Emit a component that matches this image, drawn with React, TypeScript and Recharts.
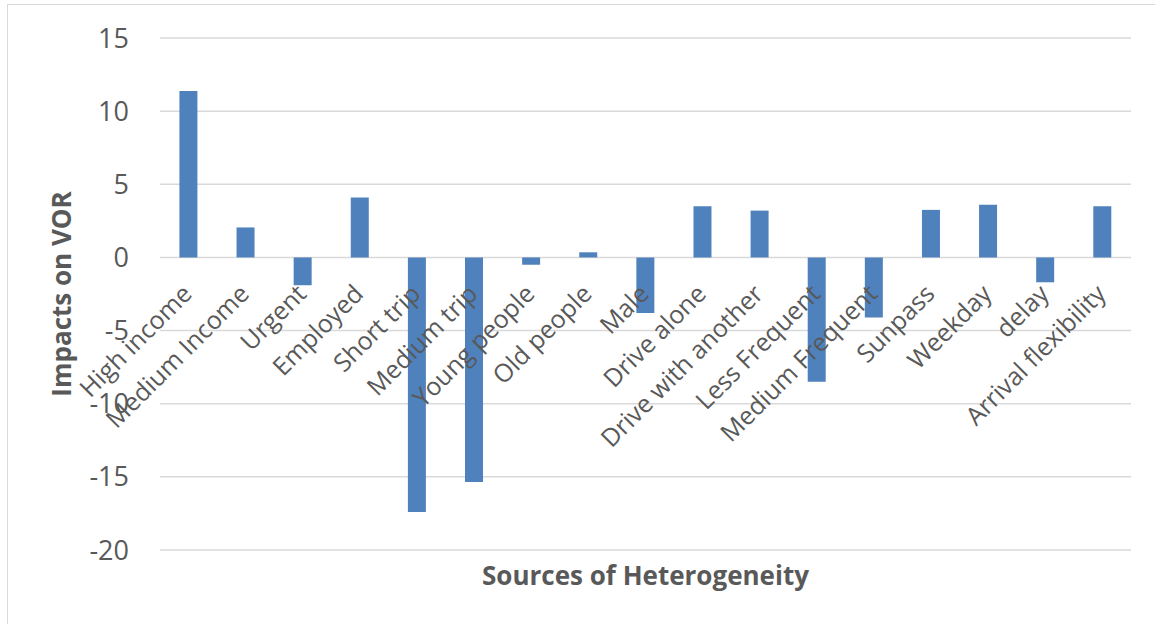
import React from 'react';
import { BarChart, Bar, XAxis, YAxis, CartesianGrid } from 'recharts';

const categories = [
  'High income', 'Medium Income', 'Urgent', 'Employed', 'Short trip', 'Medium trip',
  'Young people', 'Old people', 'Male', 'Drive alone', 'Drive with another',
  'Less Frequent', 'Medium Frequent', 'Sunpass', 'Weekday', 'delay', 'Arrival flexibility',
];
const impacts = [
  11.38, 2.05, -1.9, 4.1, -17.4, -15.35, -0.5, 0.35, -3.8, 3.5, 3.2,
  -8.5, -4.1, 3.25, 3.6, -1.7, 3.5,
];
const yTicks = [-20, -15, -10, -5, 0, 5, 10, 15];

const data = categories.map((name, i) => ({ name, value: impacts[i] }));

const W = 1155;
const H = 624;
const M = { top: 38, right: 24, bottom: 0, left: 0 };
const Y_AXIS_W = 160;
const X_AXIS_H = 74;
const Y_MIN = -20;
const Y_MAX = 15;
const PLOT_TOP = M.top;
const PLOT_H = H - M.top - M.bottom - X_AXIS_H;
const ZERO_Y = PLOT_TOP + (PLOT_H * Y_MAX) / (Y_MAX - Y_MIN);

const FONT = '"Open Sans", "Liberation Sans", sans-serif';
const TEXT = '#595959';

const CatTick = (props: any) => {
  const { x, payload } = props;
  const ax = x + 5;
  const ay = ZERO_Y + 38;
  return (
    <text
      x={ax}
      y={ay}
      textAnchor="end"
      transform={`rotate(-45 ${ax} ${ay})`}
      fill={TEXT}
      fontSize={25}
      fontFamily={FONT}
    >
      {payload.value}
    </text>
  );
};

const XTitle = (props: any) => {
  const vb = props.viewBox || { x: 0, y: 0, width: 0, height: 0 };
  return (
    <text
      x={vb.x + vb.width / 2}
      y={vb.y + 35}
      textAnchor="middle"
      fill={TEXT}
      fontSize={26}
      fontWeight="bold"
      fontFamily={FONT}
    >
      Sources of Heterogeneity
    </text>
  );
};

const YTitle = (props: any) => {
  const vb = props.viewBox || { x: 0, y: 0, width: 0, height: 0 };
  const cx = 71;
  const cy = vb.y + vb.height / 2;
  return (
    <text
      x={cx}
      y={cy}
      textAnchor="middle"
      transform={`rotate(-90 ${cx} ${cy})`}
      fill={TEXT}
      fontSize={26}
      fontWeight="bold"
      fontFamily={FONT}
    >
      Impacts on VOR
    </text>
  );
};

export default function App() {
  return (
    <div style={{ position: 'absolute', left: 0, top: 0, width: W, height: H, overflow: 'hidden', background: '#fff' }}>
      <div
        style={{
          position: 'absolute',
          left: 7,
          top: 4,
          width: 1300,
          height: 800,
          border: '1px solid #d9d9d9',
        }}
      />
      <div style={{ position: 'absolute', left: 0, top: 0 }}>
        <BarChart width={W} height={H} data={data} margin={M} barCategoryGap="34%">
          <CartesianGrid vertical={false} stroke="#d9d9d9" strokeWidth={1.5} />
          <XAxis
            dataKey="name"
            height={X_AXIS_H}
            axisLine={false}
            tickLine={false}
            interval={0}
            tick={<CatTick />}
            label={<XTitle />}
          />
          <YAxis
            width={Y_AXIS_W}
            domain={[Y_MIN, Y_MAX]}
            ticks={yTicks}
            axisLine={false}
            tickLine={false}
            tickMargin={25}
            tick={{ fill: TEXT, fontSize: 27, fontFamily: FONT }}
            label={<YTitle />}
          />
          <Bar dataKey="value" fill="#4F81BD" isAnimationActive={false} />
        </BarChart>
      </div>
    </div>
  );
}
